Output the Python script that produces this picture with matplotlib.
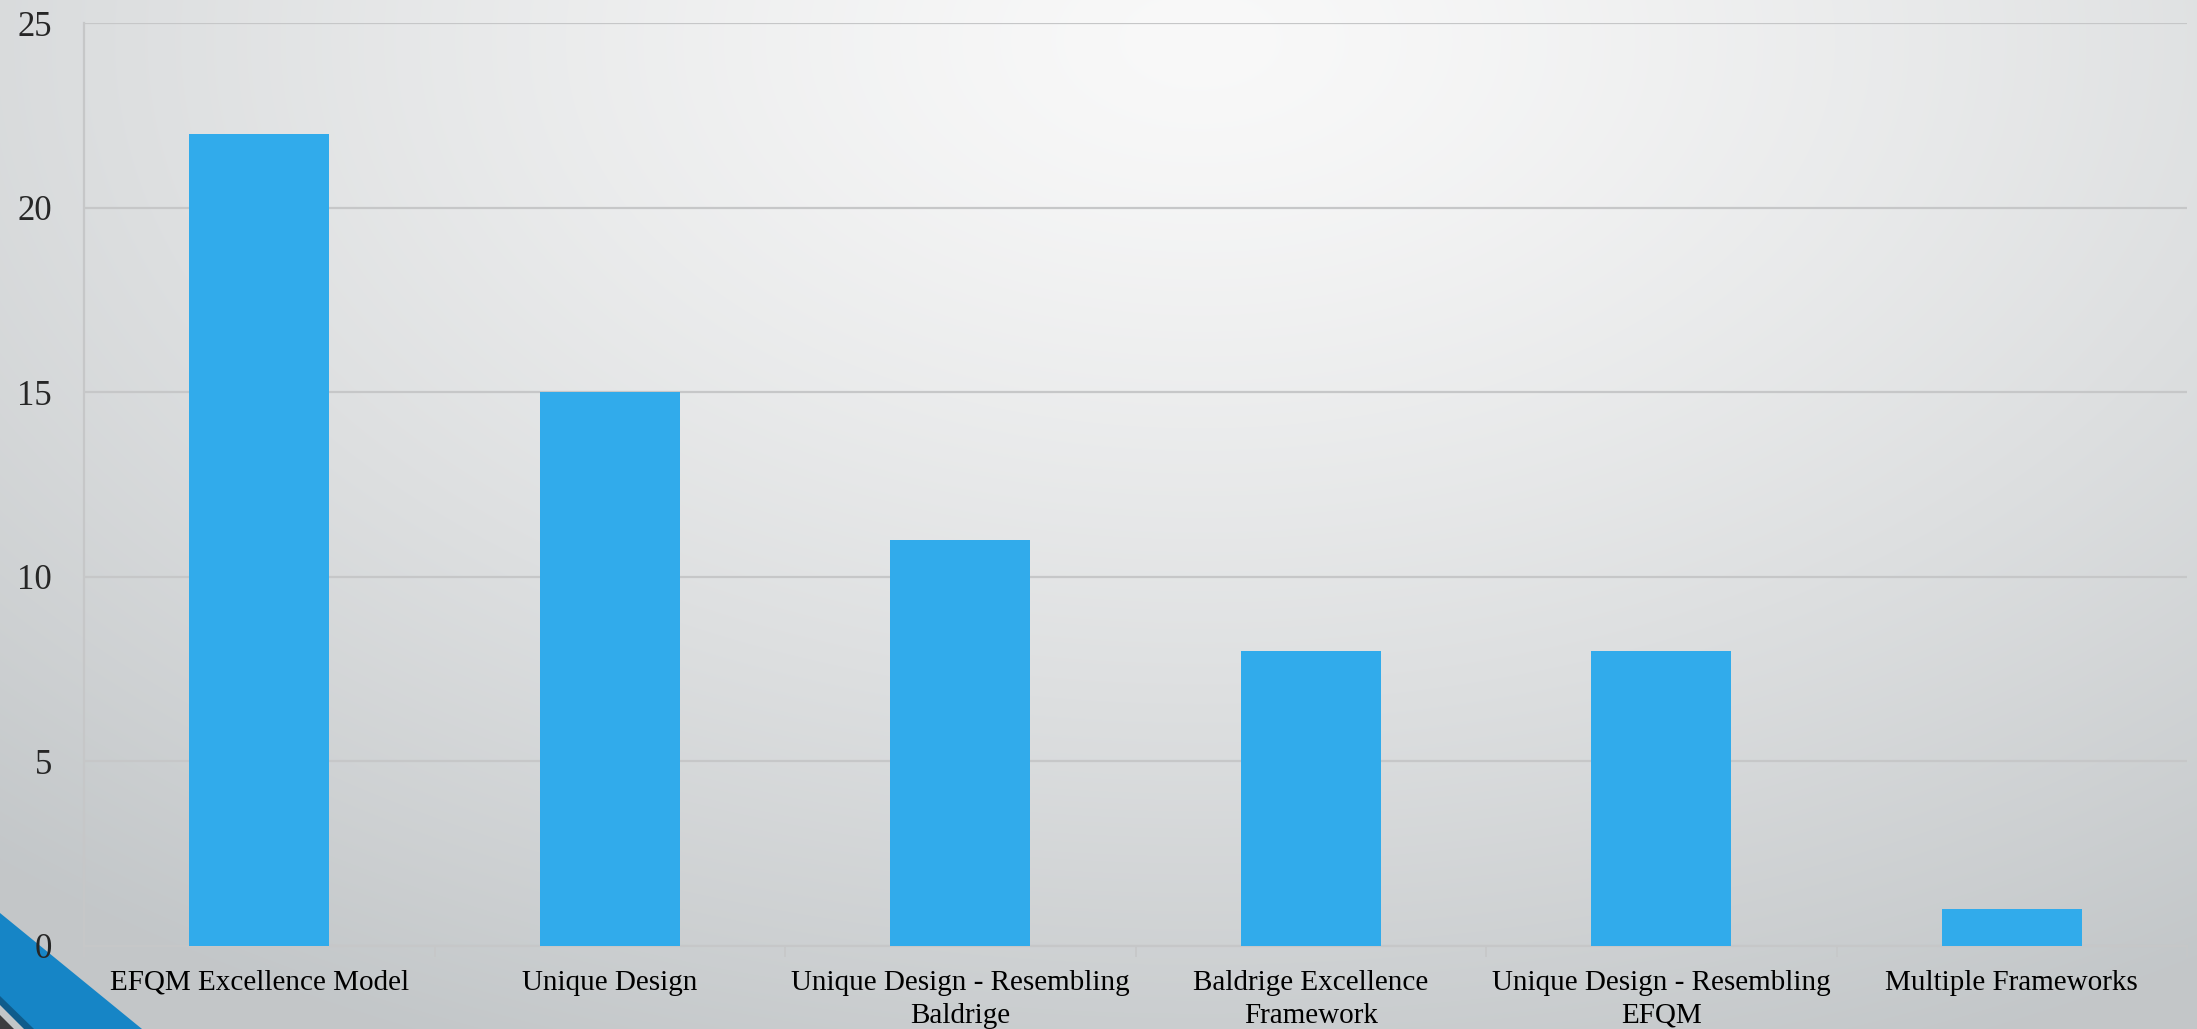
import numpy as np
import matplotlib
matplotlib.use("Agg")
import matplotlib.pyplot as plt
from matplotlib.patches import Polygon

# -----------------------------------------------------------------------------
# Data
# -----------------------------------------------------------------------------
categories = [
    "EFQM Excellence Model",
    "Unique Design",
    "Unique Design - Resembling\nBaldrige",
    "Baldrige Excellence\nFramework",
    "Unique Design - Resembling\nEFQM",
    "Multiple Frameworks",
]
counts = [22, 15, 11, 8, 8, 1]
yticks = [0, 5, 10, 15, 20, 25]

W, H = 2197, 1029
BAR = "#31abeb"
GRID = "#c6c7c8"

plt.rcParams['font.family'] = ['Liberation Serif', 'DejaVu Serif']

fig = plt.figure(figsize=(W / 100, H / 100), dpi=100)

# -----------------------------------------------------------------------------
# Background gradient
# -----------------------------------------------------------------------------
yy, xx = np.mgrid[0:H, 0:W]
t = np.sqrt(((xx - 1200) / 1800.0) ** 2 + ((yy - 40) / 1100.0) ** 2)
t = np.clip(t, 0, 1) ** 1.3
light = np.array([0.976, 0.976, 0.976])
dark = np.array([0.765, 0.78, 0.788])
img = light[None, None, :] - (light - dark)[None, None, :] * t[..., None]

bg = fig.add_axes([0, 0, 1, 1], zorder=-10)
bg.imshow(img, aspect='auto', extent=[0, W, H, 0])
bg.set_xlim(0, W)
bg.set_ylim(H, 0)
bg.axis('off')

# corner decoration
bg.add_patch(Polygon([(0, 913), (142, H), (0, H)], closed=True,
                     facecolor="#1685c6", edgecolor='none'))
bg.add_patch(Polygon([(0, 996), (34, H), (0, H)], closed=True,
                     facecolor="#0f5c8c", edgecolor='none'))
bg.add_patch(Polygon([(0, 1005), (24, H), (0, H)], closed=True,
                     facecolor="#c2c6c8", edgecolor='none'))
bg.add_patch(Polygon([(0, 1015), (14, H), (0, H)], closed=True,
                     facecolor="#3c3d3f", edgecolor='none'))

# -----------------------------------------------------------------------------
# Bar chart
# -----------------------------------------------------------------------------
ax = fig.add_axes([84 / W, 1 - 946 / H, (2187 - 84) / W, (946 - 23) / H])
ax.patch.set_alpha(0)

x = np.arange(len(categories))
ax.bar(x, counts, width=0.4, color=BAR, zorder=3)

ax.set_xlim(-0.5, len(categories) - 0.5)
ax.set_ylim(0, 25)
ax.set_yticks(yticks)
ax.set_yticklabels([str(v) for v in yticks])
ax.tick_params(axis='y', length=0, pad=23, labelsize=25, labelcolor="#262626")
ax.yaxis.grid(True, color=GRID, linewidth=1.6, zorder=0)

ax.set_xticks(np.arange(len(categories) + 1) - 0.5)
ax.set_xticklabels([])
ax.tick_params(axis='x', which='major', length=8, width=1.2, color=GRID)
ax.set_xticks(x, minor=True)
ax.set_xticklabels(categories, minor=True, fontsize=21, linespacing=1.35)
ax.tick_params(axis='x', which='minor', length=0, pad=17, labelcolor="black")

for side in ('top', 'right'):
    ax.spines[side].set_visible(False)
for side in ('left', 'bottom'):
    ax.spines[side].set_color(GRID)
    ax.spines[side].set_linewidth(1.6)

fig.savefig("out.png", dpi=100)
